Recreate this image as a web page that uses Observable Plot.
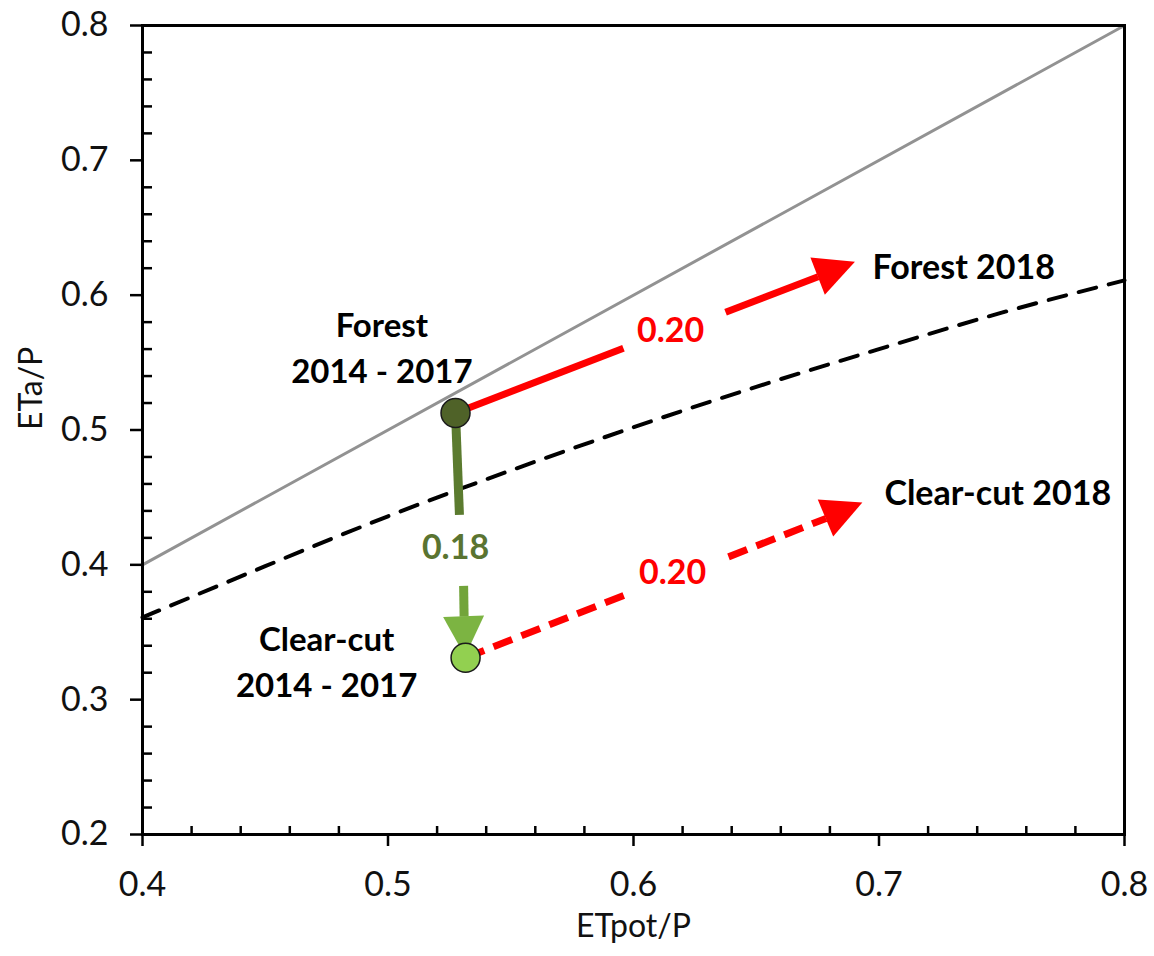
<!DOCTYPE html>
<html>
<head>
<meta charset="utf-8">
<script src="https://cdn.jsdelivr.net/npm/d3@7"></script>
<script src="https://cdn.jsdelivr.net/npm/@observablehq/plot@0.6"></script>
<style>
  html, body { margin: 0; padding: 0; background: #fff; }
</style>
</head>
<body>
<div id="chart"></div>
<script>
// ---- data ----
const majorX = [0.4, 0.5, 0.6, 0.7, 0.8];
const majorY = [0.2, 0.3, 0.4, 0.5, 0.6, 0.7, 0.8];
const minorX = [0.42,0.44,0.46,0.48,0.52,0.54,0.56,0.58,0.62,0.64,0.66,0.68,0.72,0.74,0.76,0.78];
const minorY = [0.22,0.24,0.26,0.28,0.32,0.34,0.36,0.38,0.42,0.44,0.46,0.48,0.52,0.54,0.56,0.58,0.62,0.64,0.66,0.68,0.72,0.74,0.76,0.78];

// 1:1 energy limit line
const limitX = [0.4, 0.8];
const limitY = [0.4, 0.8];

// dashed curve
const curveX = [0.40, 0.45, 0.50, 0.55, 0.60, 0.65, 0.70, 0.75, 0.80];
const curveY = [0.361, 0.399, 0.436, 0.470, 0.502, 0.532, 0.560, 0.587, 0.611];

// points: Forest 2014-2017, Clear-cut 2014-2017
const pointNames = ["Forest", "Clear-cut"];
const pointX = [0.5275, 0.5316];
const pointY = [0.5126, 0.3311];

// red shift arrows: [from point, gap start, gap end, head base, head tip]
const forestArrowX = [0.5275, 0.5959, 0.6375, 0.6752, 0.6904];
const forestArrowY = [0.5126, 0.5607, 0.5874, 0.6137, 0.6244];
const clearArrowX  = [0.5316, 0.5967, 0.6387, 0.6784, 0.6936];
const clearArrowY  = [0.3311, 0.3778, 0.4059, 0.4344, 0.4460];
// green change arrow: [from forest, gap start, gap end, head base, head tip]
const greenArrowX  = [0.5275, 0.5291, 0.5308, 0.5310, 0.5316];
const greenArrowY  = [0.5126, 0.4370, 0.3844, 0.3615, 0.3311];

// labels
const shiftLabels = ["0.20", "0.20"];
const shiftLabelX = [0.6151, 0.6159];
const shiftLabelY = [0.5733, 0.3941];
const changeLabel = "0.18";
const changeLabelX = 0.5275;
const changeLabelY = 0.4126;

const periodLabels = ["Forest\n2014 - 2017", "Clear-cut\n2014 - 2017"];
const periodLabelX = [0.4975, 0.4750];
const periodLabelY = [0.5630, 0.3300];
const endLabels = ["Forest 2018", "Clear-cut 2018"];
const endLabelX = [0.6974, 0.7022];
const endLabelY = [0.6200, 0.4526];

// ---- build tables ----
const seg = (X, Y, a, b) => ({x1: X[a], y1: Y[a], x2: X[b], y2: Y[b]});
const limitLine = limitX.map((x, i) => ({x, y: limitY[i]}));
const curve = curveX.map((x, i) => ({x, y: curveY[i]}));
const points = pointNames.map((name, i) => ({name, x: pointX[i], y: pointY[i]}));

const red = "#ff0000";
const greenDark = "#5b7b2f";
const greenLight = "#72a43a";
const greenHead = "#7cb442";

const heads = [
  {...seg(forestArrowX, forestArrowY, 3, 4), color: red, len: 40, width: 40},
  {...seg(clearArrowX, clearArrowY, 3, 4), color: red, len: 40, width: 40},
  {...seg(greenArrowX, greenArrowY, 3, 4), color: greenHead, len: 40, width: 41}
];

function arrowheads(index, scales) {
  const g = d3.create("svg:g");
  for (const h of heads) {
    const bx0 = scales.x(h.x1), by0 = scales.y(h.y1);
    const tx0 = scales.x(h.x2), ty0 = scales.y(h.y2);
    const ang = Math.atan2(ty0 - by0, tx0 - bx0);
    const tx = bx0 + h.len * Math.cos(ang), ty = by0 + h.len * Math.sin(ang);
    const px = -Math.sin(ang) * h.width / 2, py = Math.cos(ang) * h.width / 2;
    g.append("polygon")
      .attr("points", [[tx, ty], [bx0 + px, by0 + py], [bx0 - px, by0 - py]].map(p => p.join(",")).join(" "))
      .attr("fill", h.color);
  }
  return g.node();
}

const font = "Lato";

const chart = Plot.plot({
  width: 1154,
  height: 956,
  marginLeft: 142,
  marginRight: 30,
  marginTop: 25,
  marginBottom: 122,
  style: {background: "#fff", color: "#000", fontFamily: font},
  x: {domain: [0.4, 0.8]},
  y: {domain: [0.2, 0.8]},
  marks: [
    // lines
    Plot.line(limitLine, {x: "x", y: "y", stroke: "#929292", strokeWidth: 3}),
    Plot.line(curve, {x: "x", y: "y", curve: "natural", stroke: "#000", strokeWidth: 4, strokeDasharray: "18,13"}),
    // red forest shift arrow (solid)
    Plot.link([seg(forestArrowX, forestArrowY, 0, 1), seg(forestArrowX, forestArrowY, 2, 3)],
      {x1: "x1", y1: "y1", x2: "x2", y2: "y2", stroke: red, strokeWidth: 7}),
    // red clear-cut shift arrow (dashed)
    Plot.link([seg(clearArrowX, clearArrowY, 0, 1), seg(clearArrowX, clearArrowY, 2, 3)],
      {x1: "x1", y1: "y1", x2: "x2", y2: "y2", stroke: red, strokeWidth: 7, strokeDasharray: "20,10"}),
    // green change arrow
    Plot.link([seg(greenArrowX, greenArrowY, 0, 1)],
      {x1: "x1", y1: "y1", x2: "x2", y2: "y2", stroke: greenDark, strokeWidth: 9}),
    Plot.link([seg(greenArrowX, greenArrowY, 2, 3)],
      {x1: "x1", y1: "y1", x2: "x2", y2: "y2", stroke: greenLight, strokeWidth: 9}),
    arrowheads,
    // points
    Plot.dot(points, {x: "x", y: "y", r: 14.5, fill: d => d.name === "Forest" ? "#4f6228" : "#92d050", stroke: "#1a1a1a", strokeWidth: 1.5}),
    // value labels
    Plot.text(shiftLabels, {x: (d, i) => shiftLabelX[i], y: (d, i) => shiftLabelY[i], text: d => d, fill: red, fontSize: 34, fontWeight: "bold", fontFamily: font}),
    Plot.text([changeLabel], {x: changeLabelX, y: changeLabelY, text: d => d, fill: "#5a7431", fontSize: 34, fontWeight: "bold", fontFamily: font}),
    Plot.text(periodLabels, {x: (d, i) => periodLabelX[i], y: (d, i) => periodLabelY[i], text: d => d, fill: "#000", fontSize: 33, fontWeight: "bold", lineHeight: 1.4, fontFamily: font}),
    Plot.text(endLabels, {x: (d, i) => endLabelX[i], y: (d, i) => endLabelY[i], text: d => d, fill: "#000", fontSize: 34, fontWeight: "bold", textAnchor: "start", fontFamily: font}),
    // frame and axes
    Plot.frame({stroke: "#000", strokeWidth: 3}),
    Plot.axisX({ticks: majorX, tickSize: 12, tickPadding: 25, tickFormat: d => d.toFixed(1), fontSize: 34, label: null, strokeWidth: 2.5, fill: "#111"}),
    Plot.axisX({ticks: minorX, tickSize: -8, tickFormat: () => "", label: null, strokeWidth: 2.5}),
    Plot.axisY({ticks: majorY, tickSize: 12, tickPadding: 22, tickFormat: d => d.toFixed(1), fontSize: 34, label: null, strokeWidth: 2.5, fill: "#111"}),
    Plot.axisY({ticks: minorY, tickSize: -10, tickFormat: () => "", label: null, strokeWidth: 2.5}),
    Plot.text(["ETa/P"], {frameAnchor: "left", dx: -111, rotate: -90, text: d => d, fontSize: 32, fill: "#111", fontFamily: font}),
    Plot.text(["ETpot/P"], {frameAnchor: "bottom", dy: 102, text: d => d, fontSize: 32, fill: "#111", fontFamily: font})
  ]
});

document.getElementById("chart").appendChild(chart);
</script>
</body>
</html>
